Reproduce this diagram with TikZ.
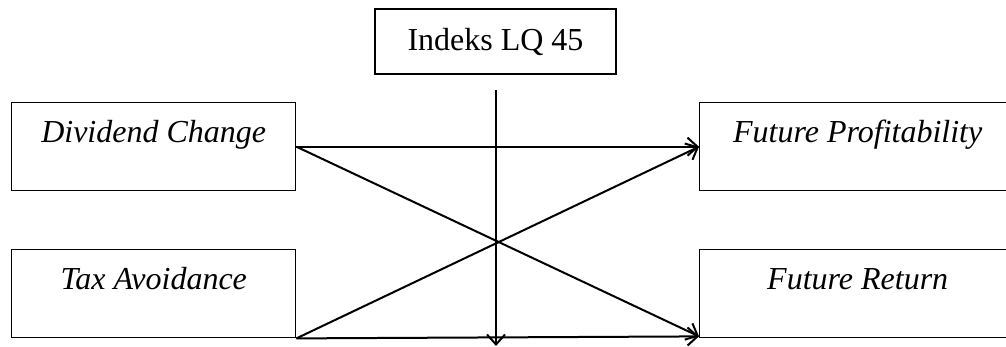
\documentclass[tikz,border=0pt]{standalone}
\usepackage{fontspec}
\setmainfont{Liberation Serif}
\usetikzlibrary{arrows.meta, positioning}

\begin{document}
\begin{tikzpicture}[x=0.5pt, y=-0.5pt,
    varbox/.style={draw, line width=0.7pt, inner sep=0pt, text height=20pt, text depth=24pt, font=\fontsize{16}{19}\selectfont\itshape},
    link/.style={line width=1pt, -{Straight Barb[length=5pt,width=9pt]}}]
    \useasboundingbox (0,0) rectangle (1006,347);

    \node[draw, line width=0.7pt, inner sep=0pt, minimum width=120.5pt, minimum height=32.5pt, font=\fontsize{16}{19}\selectfont] (lq) at (495.5,41.5) {Indeks LQ 45};

    \node[varbox, minimum width=142pt, anchor=north west] (div) at (11,102) {Dividend Change};
    \node[varbox, minimum width=142pt, anchor=north west] (tax) at (11,249) {Tax Avoidance};
    \node[varbox, minimum width=158pt, anchor=north west] (prof) at (699,102) {Future Profitability};
    \node[varbox, minimum width=158pt, anchor=north west] (ret) at (699,249) {Future Return};

    % moderasi
    \coordinate (mtop) at (496,90);
    \coordinate (mbot) at (496,346);
    \draw[link] (mtop) -- (mbot);

    \draw[link] (div.east) -- (prof.west);
    \draw[link] (div.east) -- ([yshift=1pt]ret.south west);
    \draw[link] (tax.south east) -- (prof.west);
    \draw[link] (tax.south east) -- ([yshift=1pt]ret.south west);
\end{tikzpicture}
\end{document}
